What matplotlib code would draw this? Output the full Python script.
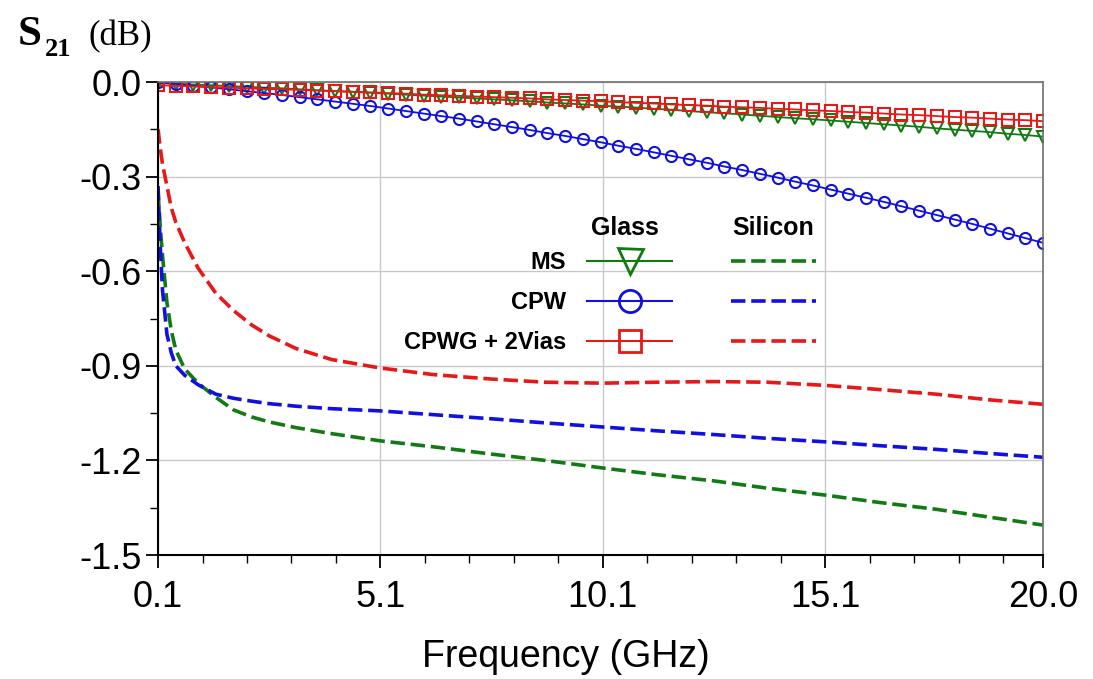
import numpy as np
import matplotlib
matplotlib.use('Agg')
import matplotlib.pyplot as plt
from matplotlib.lines import Line2D
from matplotlib.ticker import FixedLocator

# Glass substrate: 51 simulated points between 0.1 and 20 GHz
freq_glass = np.linspace(0.1, 20.0, 51)

ms_glass = [-0.003, -0.005, -0.008, -0.010, -0.013, -0.015, -0.018, -0.020, -0.023, -0.026,
            -0.029, -0.031, -0.034, -0.037, -0.040, -0.043, -0.046, -0.049, -0.052, -0.055,
            -0.058, -0.061, -0.065, -0.068, -0.071, -0.075, -0.078, -0.081, -0.085, -0.088,
            -0.092, -0.096, -0.099, -0.103, -0.107, -0.111, -0.115, -0.118, -0.122, -0.126,
            -0.130, -0.134, -0.138, -0.142, -0.147, -0.151, -0.155, -0.159, -0.164, -0.168,
            -0.173]

cpw_glass = [-0.001, -0.006, -0.012, -0.017, -0.023, -0.029, -0.035, -0.041, -0.048, -0.055,
             -0.062, -0.069, -0.076, -0.084, -0.092, -0.100, -0.108, -0.116, -0.125, -0.134,
             -0.143, -0.152, -0.162, -0.171, -0.181, -0.191, -0.202, -0.212, -0.223, -0.234,
             -0.245, -0.256, -0.268, -0.279, -0.291, -0.303, -0.316, -0.328, -0.341, -0.354,
             -0.367, -0.380, -0.394, -0.408, -0.422, -0.436, -0.450, -0.465, -0.480, -0.495,
             -0.510]

cpwg_glass = [-0.010, -0.012, -0.014, -0.016, -0.018, -0.020, -0.022, -0.023, -0.025, -0.027,
              -0.029, -0.031, -0.033, -0.035, -0.037, -0.040, -0.042, -0.044, -0.046, -0.048,
              -0.050, -0.052, -0.055, -0.057, -0.059, -0.061, -0.064, -0.066, -0.068, -0.071,
              -0.073, -0.075, -0.078, -0.080, -0.082, -0.085, -0.087, -0.090, -0.092, -0.095,
              -0.097, -0.100, -0.103, -0.105, -0.108, -0.111, -0.113, -0.116, -0.119, -0.121,
              -0.124]

# Silicon substrate (dashed curves)
freq_si = [0.1, 0.15, 0.2, 0.3, 0.4, 0.5, 0.7, 1.0, 1.4, 1.8, 2.2, 2.6, 3.2, 4.0, 5.1,
           6.3, 7.6, 8.8, 10.1, 11.3, 12.6, 13.8, 15.1, 16.3, 17.6, 18.8, 20.0]

ms_si = [-0.35, -0.46, -0.55, -0.70, -0.79, -0.85, -0.91, -0.955, -1.00, -1.04, -1.062, -1.078,
         -1.096, -1.115, -1.138, -1.157, -1.180, -1.200, -1.224, -1.245, -1.265, -1.288, -1.310,
         -1.333, -1.355, -1.380, -1.405]

cpw_si = [-0.33, -0.52, -0.66, -0.80, -0.86, -0.90, -0.93, -0.96, -0.99, -1.003, -1.012, -1.020,
          -1.028, -1.036, -1.043, -1.055, -1.068, -1.081, -1.094, -1.106, -1.118, -1.130, -1.141,
          -1.153, -1.165, -1.178, -1.190]

cpwg_si = [-0.15, -0.21, -0.26, -0.33, -0.40, -0.445, -0.51, -0.59, -0.67, -0.725, -0.77, -0.805,
           -0.845, -0.88, -0.907, -0.928, -0.942, -0.952, -0.955, -0.952, -0.950, -0.952, -0.962,
           -0.975, -0.990, -1.008, -1.022]

x_ticks = [0.1, 5.1, 10.1, 15.1, 20.0]
x_labels = ['0.1', '5.1', '10.1', '15.1', '20.0']
y_ticks = [0.0, -0.3, -0.6, -0.9, -1.2, -1.5]
y_labels = ['0.0', '-0.3', '-0.6', '-0.9', '-1.2', '-1.5']

green = '#127a12'
blue = '#1010e0'
red = '#e81818'

plt.rcParams['font.family'] = ['Liberation Sans', 'DejaVu Sans']

fig = plt.figure(figsize=(10.93, 6.79), dpi=100)
ax = fig.add_axes([0.1446, 0.1826, 0.8097, 0.6966])

# glass curves
ax.plot(freq_glass, ms_glass, color=green, lw=1.3, marker='v', ms=8, mfc='none', mew=1.5)
ax.plot(freq_glass, cpw_glass, color=blue, lw=1.3, marker='o', ms=8, mfc='none', mew=1.5)
ax.plot(freq_glass, cpwg_glass, color=red, lw=1.3, marker='s', ms=8, mfc='none', mew=1.5)

# silicon curves
ax.plot(freq_si, ms_si, color=green, lw=2.6, dashes=(4, 1.6))
ax.plot(freq_si, cpw_si, color=blue, lw=2.6, dashes=(4, 1.6))
ax.plot(freq_si, cpwg_si, color=red, lw=2.6, dashes=(4, 1.6))

ax.set_xlim(0.1, 20.0)
ax.set_ylim(-1.5, 0.0)
ax.set_xticks(x_ticks)
ax.set_xticklabels(x_labels)
ax.set_yticks(y_ticks)
ax.set_yticklabels(y_labels)
ax.xaxis.set_minor_locator(FixedLocator(np.arange(1.1, 20.0, 1.0)))
ax.yaxis.set_minor_locator(FixedLocator(np.arange(-1.35, 0, 0.3)))
ax.tick_params(which='major', direction='out', length=9, width=1.3, labelsize=26)
ax.tick_params(axis='x', which='major', pad=9)
ax.tick_params(axis='y', which='major', pad=3)
ax.tick_params(which='minor', direction='out', length=6, width=1.0)
ax.grid(True, which='major', color='#c8c8c8', lw=1.0)

ax.spines['left'].set_linewidth(1.5)
ax.spines['bottom'].set_linewidth(1.5)
for s in ['top', 'right']:
    ax.spines[s].set_color('#707070')
    ax.spines[s].set_linewidth(1.2)

ax.set_xlabel('Frequency (GHz)', fontsize=27, va='center')
ax.xaxis.set_label_coords(0.461, -0.216)

# y axis title
fig.text(0.016, 0.933, 'S', fontsize=31, fontweight='bold', family='Liberation Serif')
fig.text(0.041, 0.918, '21', fontsize=19, fontweight='bold', family='Liberation Serif')
fig.text(0.081, 0.934, '(dB)', fontsize=25, family='Liberation Serif')

# legend: glass (solid + marker) and silicon (dashed)
handles = [
    Line2D([], [], color=green, lw=1.5, marker='v', ms=18, mfc='none', mew=2),
    Line2D([], [], color=blue, lw=1.5, marker='o', ms=16, mfc='none', mew=2),
    Line2D([], [], color=red, lw=1.5, marker='s', ms=16, mfc='none', mew=2),
    Line2D([], [], color=green, lw=2.6, dashes=(4, 1.6)),
    Line2D([], [], color=blue, lw=2.6, dashes=(4, 1.6)),
    Line2D([], [], color=red, lw=2.6, dashes=(4, 1.6)),
]
labels = ['MS', 'CPW', 'CPWG + 2Vias', '', '', '']
leg = ax.legend(handles, labels, ncol=2, markerfirst=False, frameon=False,
                prop={'weight': 'bold', 'size': 17}, handlelength=3.6,
                columnspacing=1.6, labelspacing=0.72, handletextpad=0.9,
                loc='upper right', bbox_to_anchor=(0.768, 0.688))

ax.text(0.528, 0.691, 'Glass', transform=ax.transAxes, fontsize=18, fontweight='bold',
        ha='center', va='center')
ax.text(0.695, 0.691, 'Silicon', transform=ax.transAxes, fontsize=18, fontweight='bold',
        ha='center', va='center')

fig.savefig('out.png', dpi=100)
